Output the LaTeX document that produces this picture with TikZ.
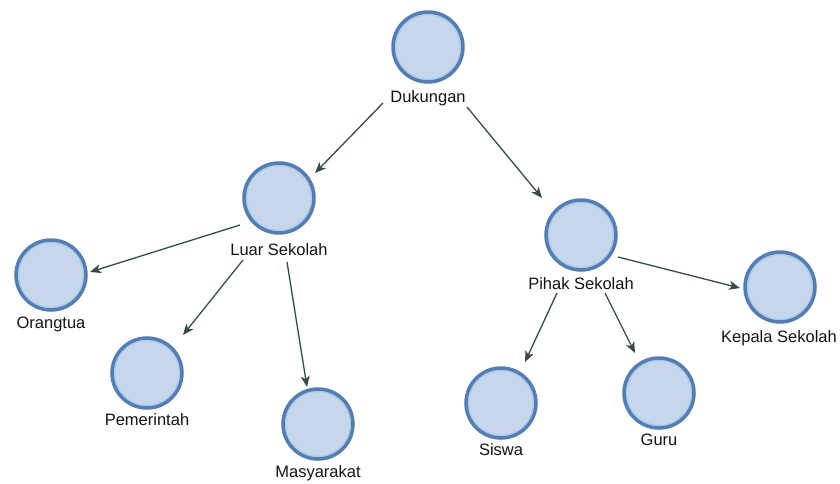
\documentclass[tikz,border=0pt]{standalone}
\usepackage{fontspec}
\setmainfont{Liberation Sans}
\usetikzlibrary{arrows.meta,calc}
\definecolor{cfill}{RGB}{198,214,235}
\definecolor{cline}{RGB}{84,126,178}
\definecolor{cring}{RGB}{172,202,238}
\definecolor{arr}{RGB}{55,75,75}
\definecolor{txt}{RGB}{20,20,20}
\begin{document}
\begin{tikzpicture}[x=1pt,y=-1pt,
 circ/.style={circle,draw=cline,fill=cfill,line width=3.5pt,minimum size=70pt,inner sep=0pt,
   path picture={\draw[cring,line width=1.6pt] (path picture bounding box.center) circle[radius=32.6pt];}},
 lab/.style={font=\fontsize{16.5}{18}\selectfont,text=txt,inner sep=0pt,text height=12pt,text depth=3.5pt},
 conn/.style={draw=arr,line width=1.3pt,-{Stealth[length=11pt,width=9pt,inset=3pt]}}]
\fill[white] (0,0) rectangle (840,483);
\useasboundingbox (0,0) rectangle (840,483);
% circles
\node[circ] (dukC)   at (428,47)  {};
\node[circ] (luarC)  at (279,198) {};
\node[circ] (pihakC) at (581,235) {};
\node[circ] (orangC) at (51,275)  {};
\node[circ] (pemC)   at (147,373) {};
\node[circ] (masyC)  at (318,424) {};
\node[circ] (siswaC) at (501,403) {};
\node[circ] (guruC)  at (659,393) {};
\node[circ] (kepC)   at (780,287) {};
% labels
\node[lab] (dukL)   at (428,98)  {Dukungan};
\node[lab] (luarL)  at (279,251) {Luar Sekolah};
\node[lab] (pihakL) at (581,285) {Pihak Sekolah};
\node[lab] (orangL) at (51,324)  {Orangtua};
\node[lab] (pemL)   at (147,421) {Pemerintah};
\node[lab] (masyL)  at (318,473) {Masyarakat};
\node[lab] (siswaL) at (501,451) {Siswa};
\node[lab] (guruL)  at (659,441) {Guru};
\node[lab] (kepL)   at (779,338) {Kepala Sekolah};
% connectors
\draw[conn] ($(dukL)+(-45,5)$)   -- ($(luarC)+(36,-25)$);
\draw[conn] ($(dukL)+(39,9)$)    -- ($(pihakC)+(-39,-37)$);
\draw[conn] ($(luarC)+(-39,27)$) -- ($(orangC)+(39,-3)$);
\draw[conn] ($(luarL)+(-36,9)$)  -- ($(pemC)+(36,-38)$);
\draw[conn] ($(luarL)+(8,11)$)   -- ($(masyC)+(-11,-37)$);
\draw[conn] ($(pihakC)+(37,22)$) -- ($(kepC)+(-40,1)$);
\draw[conn] ($(pihakL)+(-24,8)$) -- ($(siswaC)+(24,-41)$);
\draw[conn] ($(pihakL)+(24,8)$)  -- ($(guruC)+(-24,-40)$);
\end{tikzpicture}
\end{document}
